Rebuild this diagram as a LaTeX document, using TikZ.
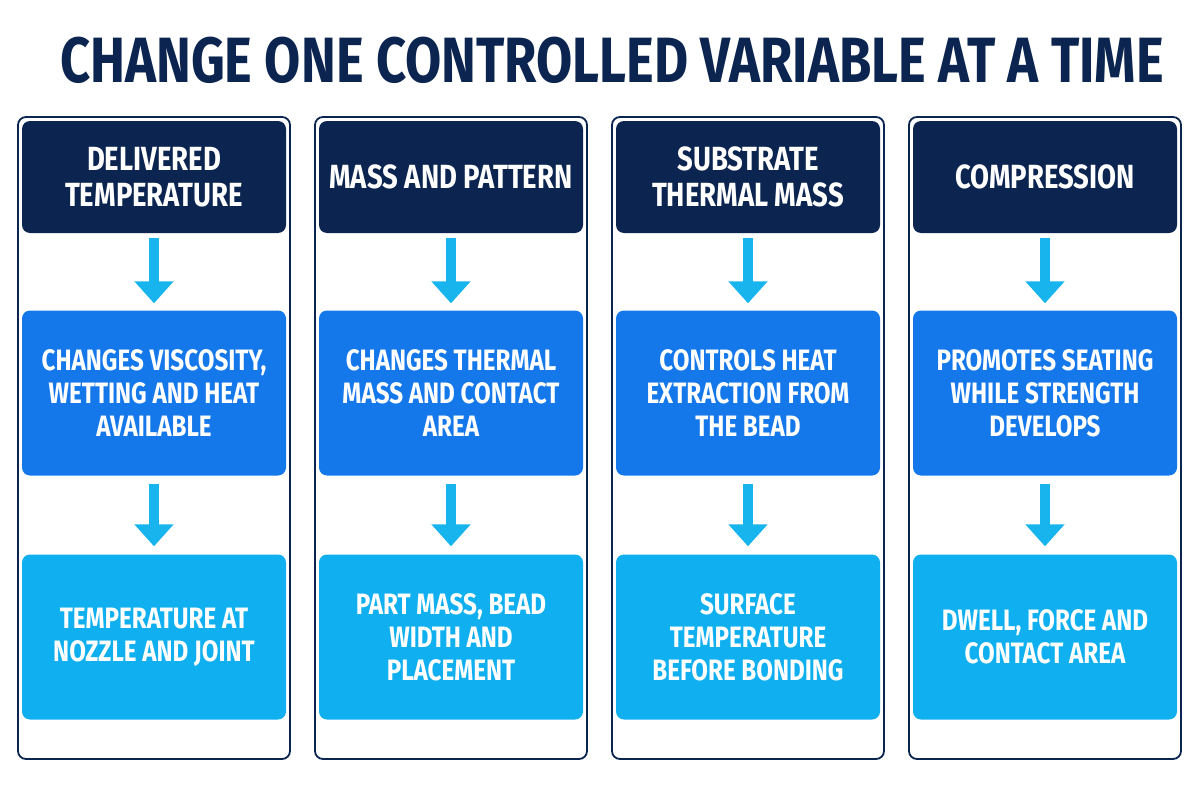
\documentclass[tikz,border=0pt]{standalone}
\usepackage{fontspec}
\usetikzlibrary{arrows.meta}
\setmainfont{Fira Sans}[UprightFont=* Bold, FakeStretch=0.82]
\definecolor{navy}{HTML}{0B2550}
\definecolor{midb}{HTML}{1478EA}
\definecolor{lightb}{HTML}{10B0F0}
\definecolor{arr}{HTML}{18B4EE}
\begin{document}
\begin{tikzpicture}[x=1pt,y=-1pt,
  frame/.style={draw=navy,line width=1.8pt,rounded corners=8pt,fill=white},
  box/.style={rounded corners=8pt,minimum width=264pt,align=center,text=white,inner sep=0pt},
  head/.style={box,fill=navy,minimum height=112pt,font=\fontsize{33.5}{36}\selectfont},
  mid/.style={box,fill=midb,minimum height=165pt,font=\fontsize{29.5}{33}\selectfont},
  bot/.style={box,fill=lightb,minimum height=165pt,font=\fontsize{29.5}{33}\selectfont},
  arrw/.style={draw=arr,line width=10pt,-{Triangle[length=22pt,width=38pt]}}]
\useasboundingbox (0,0) rectangle (1200,800);
\fill[white] (0,0) rectangle (1200,800);
\node[text=navy,font=\fontsize{64}{70}\selectfont] (title) at (612,60) {CHANGE ONE CONTROLLED VARIABLE AT A TIME};
\foreach \i/\cx/\h/\m/\b in {
 1/154/{DELIVERED\\TEMPERATURE}/{CHANGES VISCOSITY,\\WETTING AND HEAT\\AVAILABLE}/{TEMPERATURE AT\\NOZZLE AND JOINT},
 2/451/{MASS AND PATTERN}/{CHANGES THERMAL\\MASS AND CONTACT\\AREA}/{PART MASS, BEAD\\WIDTH AND\\PLACEMENT},
 3/748/{SUBSTRATE\\THERMAL MASS}/{CONTROLS HEAT\\EXTRACTION FROM\\THE BEAD}/{SURFACE\\TEMPERATURE\\BEFORE BONDING},
 4/1045/{COMPRESSION}/{PROMOTES SEATING\\WHILE STRENGTH\\DEVELOPS}/{DWELL, FORCE AND\\CONTACT AREA}}{
  \draw[frame] (\cx-136,117) rectangle (\cx+136,759);
  \node[head] (h\i) at (\cx,177) {\h};
  \node[mid] (m\i) at (\cx,393) {\m};
  \node[bot] (b\i) at (\cx,637) {\b};
  \draw[arrw] ([yshift=-5pt]h\i.south) -- ([yshift=7pt]m\i.north);
  \draw[arrw] ([yshift=-8pt]m\i.south) -- ([yshift=8pt]b\i.north);
}
\end{tikzpicture}
\end{document}
